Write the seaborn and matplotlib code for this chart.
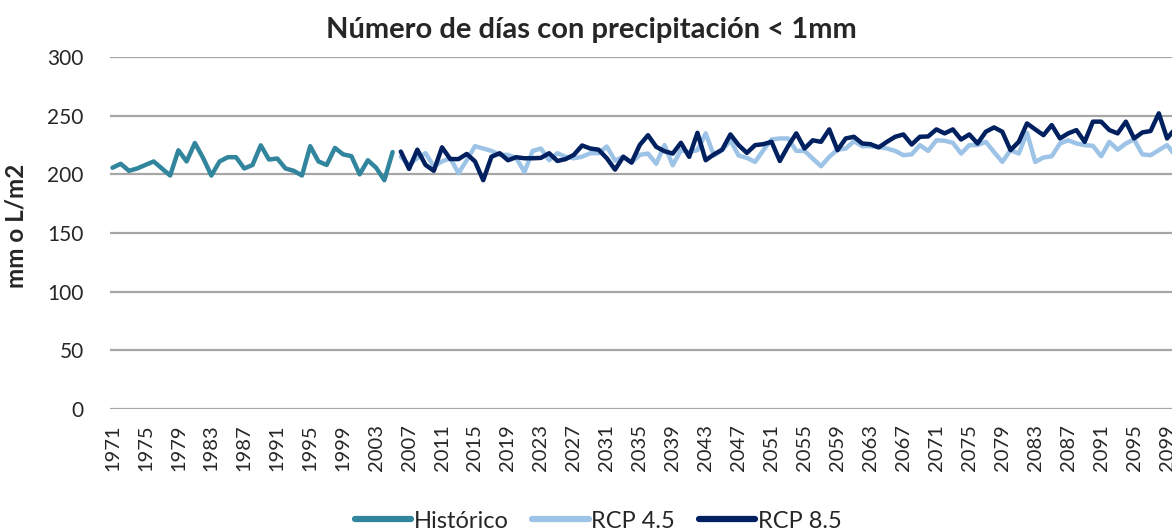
import numpy as np
import pandas as pd
import matplotlib
matplotlib.use('Agg')
import matplotlib.pyplot as plt
import seaborn as sns

# Datos (dias con precipitacion < 1mm)
anios_hist = list(range(1971, 2006))
historico = [205.6, 209, 203, 205, 208, 211, 205, 199, 220.5, 211,
             226.7, 214, 199, 211, 214.6, 214.6, 205, 208, 224.7, 212.6,
             213.5, 205, 203, 199, 224, 211, 208, 222.5, 217, 215.5,
             200, 212, 205.6, 195, 219]

anios_rcp = list(range(2006, 2101))
rcp45 = [215, 208, 214, 218, 206.6, 211, 213.7, 201, 212, 224,
         222, 220, 216.6, 216.6, 214, 202, 220, 222, 212, 218,
         215, 213.7, 215, 218, 218, 223.7, 211.7, 215, 210, 216.6,
         217.7, 209, 224.9, 207.7, 220.6, 219, 220.6, 234.9, 216, 220.6,
         229, 216, 214, 210.6, 220.6, 229.7, 230.6, 230.6, 220, 220,
         213.4, 206.9, 214.9, 221, 222, 228.3, 224, 224, 223.4, 222,
         220, 216.3, 217, 224.9, 220, 229, 228.6, 226.9, 217.7, 224.9,
         224.9, 227.7, 219, 210.6, 220.6, 217.7, 235.4, 210.6, 214.3, 215.4,
         226.3, 229, 226.3, 224.9, 224.3, 215.4, 227.7, 221, 226.3, 229.7,
         217, 216.3, 220.6, 224.9, 216]
rcp85 = [219.4, 204.6, 221, 208, 203, 223, 213, 213, 217.4, 211,
         195, 215, 218, 212, 214.6, 213.7, 213.7, 214, 218, 211.4,
         213, 216.6, 224.6, 222, 221, 213.7, 204, 215, 210, 225,
         233.4, 223.4, 219.7, 217.7, 226.9, 214.9, 235.4, 212, 217, 221,
         234, 224.9, 218.3, 224.9, 225.7, 227.7, 211.4, 224, 234.9, 222,
         229, 227.7, 238.3, 220.6, 230.6, 232, 226.3, 225.7, 222.9, 227.7,
         232, 234, 225.4, 232, 232.3, 238.3, 234.9, 238.3, 229.7, 234,
         226.3, 236.3, 240, 236.3, 220.6, 227.7, 243.4, 238.3, 233.4, 242,
         230.6, 234.9, 237.7, 227.7, 244.9, 244.9, 237.7, 234.9, 244.9, 230.6,
         235.7, 236.9, 252, 230.6, 239]

series = ['Histórico', 'RCP 4.5', 'RCP 8.5']
colores = {'Histórico': '#31859C', 'RCP 4.5': '#9DC3E6', 'RCP 8.5': '#002060'}
ticks_x = list(range(1971, 2100, 4))

df = pd.concat([
    pd.DataFrame({'anio': anios_hist, 'valor': historico, 'serie': 'Histórico'}),
    pd.DataFrame({'anio': anios_rcp, 'valor': rcp45, 'serie': 'RCP 4.5'}),
    pd.DataFrame({'anio': anios_rcp, 'valor': rcp85, 'serie': 'RCP 8.5'}),
], ignore_index=True)

sns.set_style('white')
plt.rcParams['font.family'] = ['Lato', 'DejaVu Sans']

fig = plt.figure(figsize=(11.72, 5.32), dpi=100)
ax = fig.add_axes([110 / 1172, 1 - 409 / 532, 1 - 110 / 1172, (409 - 57) / 532])

sns.lineplot(data=df, x='anio', y='valor', hue='serie', hue_order=series,
             palette=colores, linewidth=3.2, ax=ax, legend=False)

ax.set_xlim(1970.7, 2099.6)
ax.set_ylim(0, 300)
ax.set_yticks(range(0, 301, 50))
ax.set_xticks(ticks_x)
ax.set_xticklabels([str(t) for t in ticks_x], rotation=90, fontsize=14.5)
ax.tick_params(axis='y', labelsize=15, length=0, pad=19)
ax.tick_params(axis='x', length=0, pad=11)
ax.grid(axis='y', color='#A6A6A6', linewidth=1.6)
ax.grid(axis='x', visible=False)
for s in ax.spines.values():
    s.set_visible(False)

ax.set_xlabel('')
ax.set_ylabel('mm o L/m2', fontsize=17.5, fontweight='bold')
ax.yaxis.set_label_coords(-82 / 1062, 0.52)

fig.text(591 / 1172, 1 - 30 / 532, 'Número de días con precipitación < 1mm',
         ha='center', va='center', fontsize=21, fontweight='bold')

handles = [plt.Line2D([], [], color=colores[s], linewidth=4.5, solid_capstyle='round') for s in series]
fig.legend(handles, series, loc='center', bbox_to_anchor=(598 / 1172, 1 - 521 / 532),
           ncol=3, frameon=False, fontsize=17, handlelength=2.4,
           handletextpad=0.1, columnspacing=1.0)

plt.savefig('out.png', dpi=100)
plt.close()
